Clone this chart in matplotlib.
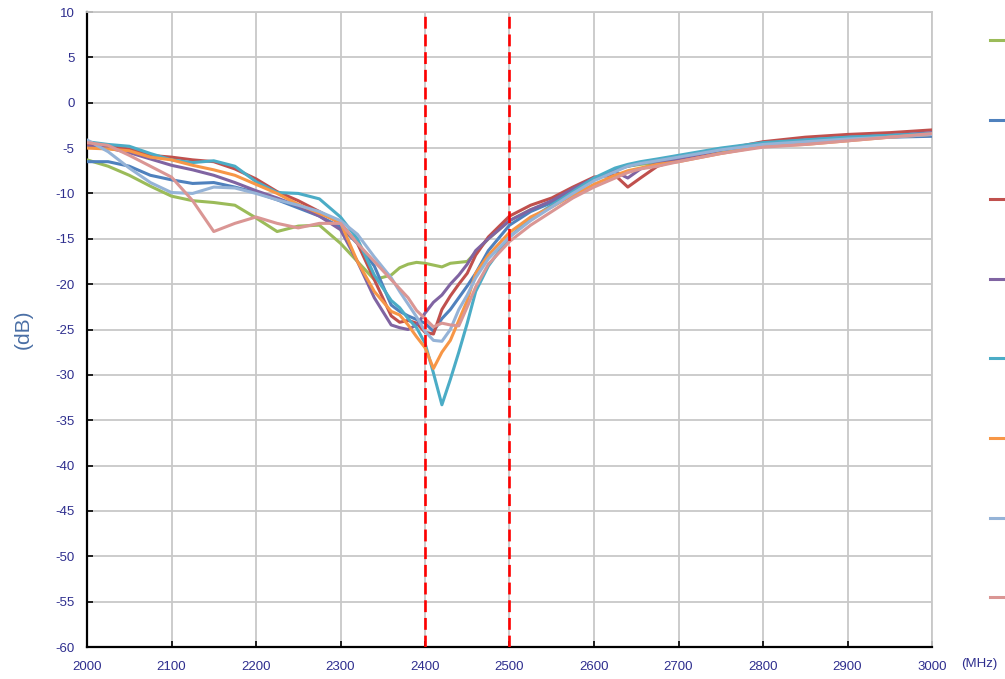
import matplotlib
matplotlib.use('Agg')

import matplotlib.pyplot as plt
from matplotlib.lines import Line2D

# Frequency grid (MHz) shared by all traces
freq = [2000, 2025, 2050, 2075, 2100, 2125, 2150, 2175, 2200, 2225, 2250, 2275,
        2300, 2320, 2340, 2360, 2370, 2380, 2390, 2400, 2410, 2420, 2430, 2440,
        2450, 2460, 2475, 2500, 2525, 2550, 2575, 2600, 2625, 2640, 2655, 2675,
        2700, 2750, 2800, 2850, 2900, 2950, 3000]

# Return loss traces (dB)
s_green = [-6.3, -7.0, -8.0, -9.2, -10.3, -10.8, -11.0, -11.3, -12.7, -14.2, -13.6, -13.5,
           -15.5, -17.5, -19.5, -19.0, -18.2, -17.8, -17.6, -17.7, -17.9, -18.1, -17.7, -17.6,
           -17.5, -16.5, -15.0, -13.0, -11.8, -11.0, -9.8, -8.5, -7.3, -7.0, -6.8, -6.6,
           -6.2, -5.4, -4.7, -4.3, -4.0, -3.7, -3.5]
s_blue = [-6.5, -6.5, -7.0, -8.0, -8.5, -8.9, -8.8, -9.3, -9.9, -10.7, -11.6, -12.5,
          -13.7, -15.5, -18.0, -22.3, -23.0, -23.5, -23.9, -24.3, -25.2, -23.8, -22.8, -21.5,
          -20.2, -18.8, -16.3, -13.5, -12.0, -11.0, -9.8, -8.5, -7.4, -7.0, -6.7, -6.4,
          -6.0, -5.2, -4.5, -4.2, -4.0, -3.8, -3.7]
s_red = [-4.7, -4.8, -5.1, -5.8, -6.0, -6.3, -6.5, -7.3, -8.4, -9.8, -10.8, -12.0,
         -13.3, -15.5, -19.5, -23.5, -24.2, -24.0, -24.3, -25.3, -25.5, -22.8, -21.3, -20.0,
         -18.8, -16.8, -14.8, -12.5, -11.3, -10.5, -9.3, -8.2, -8.0, -9.3, -8.3, -7.0,
         -6.3, -5.2, -4.3, -3.8, -3.5, -3.3, -3.0]
s_purple = [-4.8, -5.0, -5.5, -6.2, -6.9, -7.4, -8.0, -8.8, -9.7, -10.5, -11.4, -12.5,
            -14.0, -17.5, -21.5, -24.5, -24.8, -25.0, -24.5, -23.2, -22.0, -21.2, -20.0, -19.0,
            -17.8, -16.3, -15.0, -13.0, -11.8, -10.8, -9.5, -8.3, -7.6, -8.3, -7.3, -6.7,
            -6.2, -5.2, -4.5, -4.1, -3.8, -3.6, -3.3]
s_teal = [-4.3, -4.6, -4.8, -5.6, -6.3, -6.6, -6.4, -7.0, -8.7, -9.9, -10.0, -10.6,
          -12.6, -15.0, -19.0, -21.8, -22.6, -23.8, -24.8, -26.5, -29.8, -33.3, -30.5, -27.5,
          -24.3, -20.8, -18.0, -14.8, -12.8, -11.3, -9.8, -8.3, -7.2, -6.8, -6.5, -6.2,
          -5.8, -5.0, -4.4, -4.1, -3.8, -3.6, -3.4]
s_orange = [-5.0, -5.1, -5.3, -6.0, -6.3, -6.9, -7.4, -8.0, -9.0, -10.0, -11.2, -12.2,
            -13.2, -17.5, -20.8, -23.0, -23.4, -24.5, -25.8, -27.0, -29.3, -27.5, -26.2, -24.0,
            -21.8, -18.8, -16.8, -14.3, -12.6, -11.5, -10.2, -9.0, -8.0, -7.5, -7.2, -6.8,
            -6.5, -5.6, -4.8, -4.6, -4.2, -3.8, -3.5]
s_ltblue = [-4.1, -5.4, -7.2, -8.8, -9.9, -10.0, -9.3, -9.4, -10.0, -10.7, -11.3, -12.0,
            -13.0, -14.5, -17.0, -19.3, -20.8, -22.2, -23.6, -25.2, -26.2, -26.3, -25.0, -22.8,
            -21.2, -19.3, -17.2, -14.8, -13.0, -11.5, -10.0, -8.6, -7.6, -7.0, -6.7, -6.4,
            -6.0, -5.2, -4.6, -4.3, -4.0, -3.8, -3.5]
s_pink = [-4.4, -4.7, -5.8, -7.0, -8.2, -10.8, -14.2, -13.3, -12.6, -13.3, -13.8, -13.3,
          -13.3, -15.5, -17.5, -19.5, -20.5, -21.5, -22.9, -23.8, -24.7, -24.3, -24.5, -24.6,
          -22.5, -20.3, -17.8, -15.3, -13.5, -12.0, -10.5, -9.3, -8.3, -7.7, -7.3, -7.0,
          -6.5, -5.6, -4.9, -4.6, -4.2, -3.8, -3.4]

series = [s_green, s_blue, s_red, s_purple, s_teal, s_orange, s_ltblue, s_pink]
colors = ['#9BBB59', '#4F81BD', '#C0504D', '#8064A2',
          '#4BACC6', '#F79646', '#95B3D7', '#DA9694']

band_edges = [2400, 2500]
x_ticks = list(range(2000, 3001, 100))
y_ticks = list(range(-60, 11, 5))

plt.rcParams['font.family'] = ['Liberation Sans', 'DejaVu Sans']
plt.rcParams['axes.unicode_minus'] = False
tick_color = '#2E2E8E'

fig = plt.figure(figsize=(10.05, 6.79), dpi=100)
ax = fig.add_axes([87 / 1005, 32 / 679, 845 / 1005, 635 / 679])

for vals, c in zip(series, colors):
    ax.plot(freq, vals, color=c, lw=2.2, solid_capstyle='round',
            solid_joinstyle='round', zorder=3)

for xb in band_edges:
    ax.axvline(xb, color='#FF0000', lw=1.9, ls=(0, (4.5, 2.2)), zorder=4)

ax.set_xlim(2000, 3000)
ax.set_ylim(-60, 10)
ax.set_xticks(x_ticks)
ax.set_yticks(y_ticks)
ax.grid(True, color='#C8C8C8', lw=1.3, zorder=0)
ax.set_axisbelow(True)

for side in ['top', 'right']:
    ax.spines[side].set_color('#C8C8C8')
    ax.spines[side].set_linewidth(1.3)
for side in ['left', 'bottom']:
    ax.spines[side].set_color('black')
    ax.spines[side].set_linewidth(1.6)

ax.tick_params(axis='both', direction='in', length=4, width=1.2, color='black',
               labelsize=9.5, labelcolor=tick_color)
ax.tick_params(axis='x', pad=10)
ax.tick_params(axis='y', pad=9)

ax.set_ylabel('(dB)', fontsize=15, color='#4A6FA5', labelpad=16)
fig.text(961 / 1005, 1 - 664 / 679, '(MHz)', fontsize=9.5, color=tick_color,
         ha='left', va='center')

# Legend markers (labels are cut off at the right edge in the reference)
for i, c in enumerate(colors):
    y = 1 - (40 + i * 79.6) / 679
    fig.add_artist(Line2D([990 / 1005, 1.0], [y, y], color=c, lw=2.2,
                          transform=fig.transFigure))

fig.savefig('out.png', dpi=100)
plt.close(fig)
